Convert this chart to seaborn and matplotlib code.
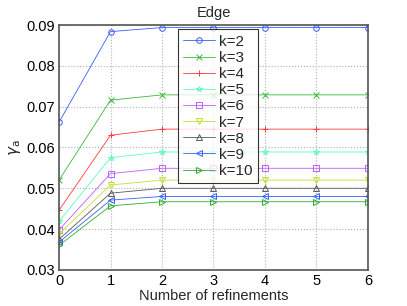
import matplotlib
matplotlib.use('Agg')
import matplotlib.pyplot as plt
import pandas as pd
import seaborn as sns

# Data
refinements = [0, 1, 2, 3, 4, 5, 6]
labels = ['k=2', 'k=3', 'k=4', 'k=5', 'k=6', 'k=7', 'k=8', 'k=9', 'k=10']
k2 = [0.0662, 0.0884, 0.0894, 0.0894, 0.0894, 0.0894, 0.0894]
k3 = [0.0520, 0.0716, 0.0729, 0.0729, 0.0729, 0.0729, 0.0729]
k4 = [0.0446, 0.0630, 0.0645, 0.0645, 0.0645, 0.0645, 0.0645]
k5 = [0.0419, 0.0575, 0.0589, 0.0589, 0.0589, 0.0589, 0.0589]
k6 = [0.0398, 0.0536, 0.0549, 0.0549, 0.0549, 0.0549, 0.0549]
k7 = [0.0388, 0.0508, 0.0520, 0.0520, 0.0520, 0.0520, 0.0520]
k8 = [0.0375, 0.0488, 0.0500, 0.0500, 0.0500, 0.0500, 0.0500]
k9 = [0.0368, 0.0471, 0.0480, 0.0480, 0.0480, 0.0480, 0.0480]
k10 = [0.0360, 0.0457, 0.0467, 0.0467, 0.0467, 0.0467, 0.0467]
series = [k2, k3, k4, k5, k6, k7, k8, k9, k10]

colors = ['#3a5cff', '#3cb83c', '#ff3c3c', '#5cffbc', '#bc5cff',
          '#c4e02c', '#5a5a5a', '#3a5cff', '#2aae2a']
markers = ['o', 'x', '+', '*', 's', 'v', '^', '<', '>']

df = pd.DataFrame({
    'refinements': refinements * len(labels),
    'gamma': [v for s in series for v in s],
    'k': [lab for lab in labels for _ in refinements],
})

sns.set_style('white')
plt.rcParams['font.family'] = ['Liberation Sans', 'DejaVu Sans']

fig = plt.figure(figsize=(4.07, 3.06), dpi=100)
ax = fig.add_axes([0.145, 0.118, 0.759, 0.800])

for lab, col, mk in zip(labels, colors, markers):
    sub = df[df['k'] == lab]
    sns.lineplot(x='refinements', y='gamma', data=sub, ax=ax, color=col,
                 marker=mk, markersize=4, markerfacecolor='none',
                 markeredgecolor=col, markeredgewidth=0.7, linewidth=0.6,
                 label=lab)

ax.set_xlim(0, 6)
ax.set_ylim(0.03, 0.09)
ax.set_xticks(range(0, 7))
ax.set_yticks([0.03, 0.04, 0.05, 0.06, 0.07, 0.08, 0.09])
ax.set_yticklabels(['0.03', '0.04', '0.05', '0.06', '0.07', '0.08', '0.09'])
ax.grid(True, linestyle=':', color='#b0b0b0', linewidth=0.8)
ax.tick_params(direction='in', length=3, labelsize=10.5, colors='black', pad=3)
for sp in ax.spines.values():
    sp.set_color('#555555')
    sp.set_linewidth(1.2)

ax.set_title('Edge', fontsize=10.5, pad=6)
ax.set_xlabel('Number of refinements', fontsize=10.5, labelpad=1)
ax.set_ylabel(r'$\gamma_{\rm a}$', fontsize=11, labelpad=2)

leg = ax.legend(loc='upper left', bbox_to_anchor=(0.385, 0.982), fontsize=11,
                frameon=True, fancybox=False, handlelength=2.1,
                handletextpad=0.25, labelspacing=0.14, borderpad=0.35,
                borderaxespad=0)
leg.get_frame().set_edgecolor('black')
leg.get_frame().set_linewidth(0.8)

fig.savefig('out.png', dpi=100)
